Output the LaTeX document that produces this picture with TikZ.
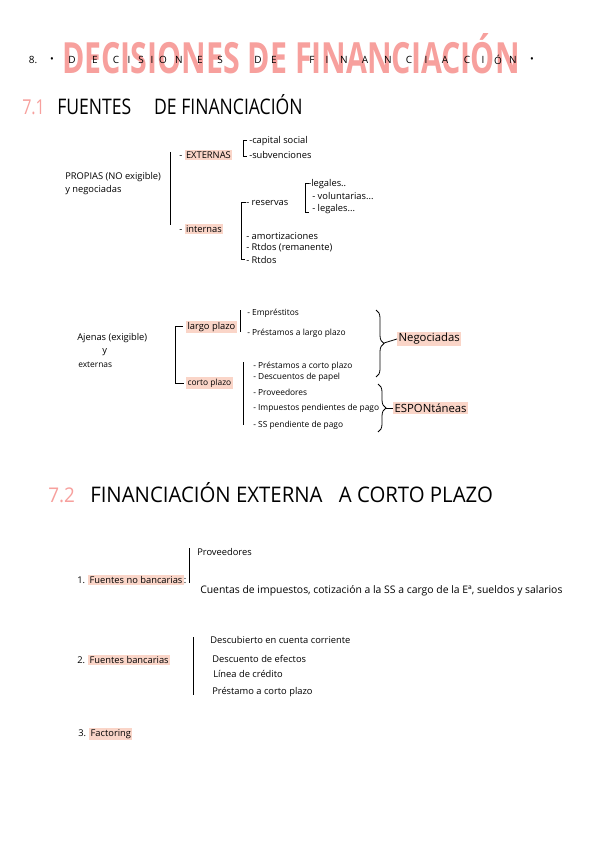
\documentclass[tikz,border=0pt]{standalone}
\usepackage{fontspec}
\setmainfont{Open Sans}
\usetikzlibrary{decorations.pathreplacing}
\definecolor{titlepink}{HTML}{F7A09D}
\definecolor{hlpink}{HTML}{FAD5C8}
\newcommand{\hlt}[1]{{\setlength{\fboxsep}{1pt}\colorbox{hlpink}{#1}}}
\tikzset{
  item/.style={anchor=west, inner sep=0pt, font=\fontsize{7}{8}\selectfont},
  smallitem/.style={item, font=\fontsize{6.3}{7}\selectfont},
  spaced/.style={inner sep=0pt, font=\fontsize{7.5}{8}\selectfont},
  head/.style={anchor=base west, inner sep=0pt},
  bline/.style={line width=0.6pt},
}
\begin{document}
\begin{tikzpicture}[x=0.75pt, y=-0.75pt]
    \useasboundingbox[fill=white] (0,0) rectangle (600,848);

    % Title
    \node[head, text=titlepink] (title) at (62,74)
        {\resizebox{343pt}{30pt}{\bfseries DECISIONES DE FINANCIACIÓN}};
    \node[spaced] (num8) at (33,60) {8.};
    \node[spaced] (dotl) at (52,60) {•};
    \node[spaced] (dotr) at (532,60) {•};
    \foreach \ltr/\xx [count=\i] in {D/72,E/95,C/116,I/129,S/141,I/152,O/163,N/179,E/200,S/220,D/258,E/274,F/312,I/327,N/344,A/365,N/388,C/409,I/426,A/445,C/467,I/483,Ó/498,N/513}
        \node[spaced] (ltr\i) at (\xx,60) {\ltr};

    % 7.1 Fuentes de financiacion
    \node[head, text=titlepink] (n71) at (22,115) {\resizebox{17pt}{11pt}{7.1}};
    \node[head] (fuentes) at (57,115)
        {\resizebox{184pt}{15pt}{FUENTES\hspace{1.3em}DE FINANCIACIÓN}};

    % Propias
    \node[item] (propias) at (65,177) {PROPIAS (NO exigible)};
    \node[item] (pnegoc) at (65,190) {y negociadas};
    \draw[bline] (170,152) -- (170,225);
    \node[item] (externas) at (179,155) {- \hlt{EXTERNAS}};
    \draw[bline] (247,140) -- (243,140) -- (243,156) -- (247,156);
    \node[item] (capital) at (249,141) {-capital social};
    \node[item] (subv) at (249,155) {-subvenciones};
    \node[item] (internas) at (179,229) {- \hlt{internas}};
    \draw[bline] (246,202) -- (241,202) -- (241,259) -- (245,259);
    \node[item] (reservas) at (246,203) {- reservas};
    \draw[bline] (309,183) -- (305,183) -- (305,212) -- (309,212);
    \node[item] (legales) at (308,184) {-legales..};
    \node[item] (volunt) at (312,196) {- voluntarias...};
    \node[item] (legales2) at (312,209) {- legales...};
    \node[item] (amort) at (246,236) {- amortizaciones};
    \node[item] (rtdosrem) at (246,248) {- Rtdos (remanente)};
    \node[item] (rtdos) at (246,260) {- Rtdos};

    % Ajenas
    \node[item] (ajenas) at (77,338) {Ajenas (exigible)};
    \node[item] (ay) at (102,352) {y};
    \node[smallitem] (aext) at (78,365) {externas};
    \draw[bline] (183,326) -- (175,326) -- (175,383) -- (184,383);
    \node[item] (largo) at (186,327) {\hlt{largo plazo}};
    \draw[bline] (240,310) -- (240,332);
    \node[smallitem] (emprest) at (247,313) {- Empréstitos};
    \node[smallitem] (prestlp) at (247,333) {- Préstamos a largo plazo};
    \node[smallitem] (corto) at (186,383) {\hlt{corto plazo}};
    \draw[bline] (243,362) -- (243,425);
    \node[smallitem] (prestcp) at (253,366) {- Préstamos a corto plazo};
    \node[smallitem] (descpap) at (253,377) {- Descuentos de papel};
    \node[smallitem] (prov) at (253,392) {- Proveedores};
    \node[smallitem] (impues) at (253,408) {- Impuestos pendientes de pago};
    \node[smallitem] (sspend) at (253,425) {- SS pendiente de pago};

    \draw[bline, decorate, decoration={brace, amplitude=6pt}] (376,310) -- (376,377);
    \coordinate (negtip) at (384,343);
    \node[item, font=\fontsize{8.5}{9}\selectfont] (negociadas) at (397,339) {\hlt{Negociadas}};
    \draw[bline] (negtip) -- (negociadas.west);
    \draw[bline, decorate, decoration={brace, amplitude=6pt}] (378,384) -- (378,432);
    \coordinate (esptip) at (386,408);
    \node[item, font=\fontsize{8.5}{9}\selectfont] (espont) at (393,408) {\hlt{ESPONtáneas}};
    \draw[bline] (esptip) -- (espont.west);

    % 7.2 Financiacion externa a corto plazo
    \node[head, text=titlepink] (n72) at (48,502) {\resizebox{20pt}{11pt}{7.2}};
    \node[head] (fext) at (90,502)
        {\resizebox{302pt}{15pt}{FINANCIACIÓN EXTERNA\hspace{0.8em}A CORTO PLAZO}};

    % 1. No bancarias
    \node[item] (nobanc) at (77,580) {1. \hlt{Fuentes no bancarias}:};
    \draw[bline] (189,548) -- (189,583);
    \node[item] (nbprov) at (197,552) {Proveedores};
    \node[item, font=\fontsize{7.8}{9}\selectfont] (cuentas) at (200,591)
        {Cuentas de impuestos, cotización a la SS a cargo de la Eª, sueldos y salarios};

    % 2. Bancarias
    \node[item] (banc) at (77,660) {2. \hlt{Fuentes bancarias}};
    \draw[bline] (193,637) -- (193,695);
    \node[item] (descub) at (210,640) {Descubierto en cuenta corriente};
    \node[item] (descef) at (212,659) {Descuento de efectos};
    \node[item] (linea) at (213,674) {Línea de crédito};
    \node[item] (prestamo) at (212,692) {Préstamo a corto plazo};

    % 3. Factoring
    \node[item] (factoring) at (78,734) {3. \hlt{Factoring}};
\end{tikzpicture}
\end{document}
